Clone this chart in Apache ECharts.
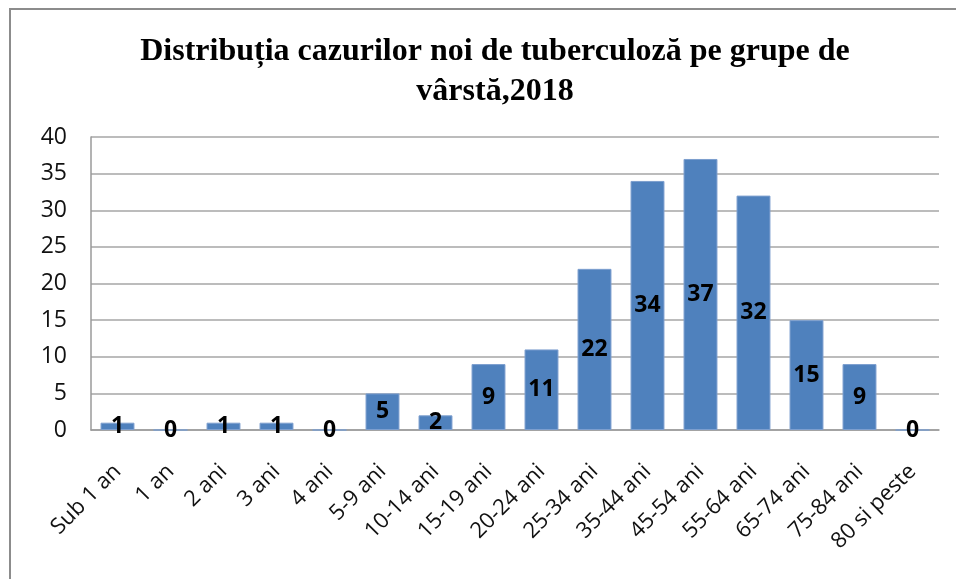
<!DOCTYPE html>
<html>
<head>
<meta charset="utf-8">
<script src="https://cdn.jsdelivr.net/npm/echarts@6/dist/echarts.min.js"></script>
<style>
  html, body { margin: 0; padding: 0; background: #fff; }
  #chart { width: 956px; height: 579px; }
</style>
</head>
<body>
<div id="chart"></div>
<script>
// grupe de varsta
var categories = ['Sub 1 an', '1 an', '2 ani', '3 ani', '4 ani', '5-9 ani', '10-14 ani', '15-19 ani',
  '20-24 ani', '25-34 ani', '35-44 ani', '45-54 ani', '55-64 ani', '65-74 ani', '75-84 ani', '80 si peste'];
// cazuri noi
var cazuri = [1, 0, 1, 1, 0, 5, 2, 9, 11, 22, 34, 37, 32, 15, 9, 0];
var yTicks = { min: 0, max: 40, interval: 5 };

var titlu = 'Distribuția cazurilor noi de tuberculoză pe grupe de\nvârstă,2018';

var myChart = echarts.init(document.getElementById('chart'));
myChart.setOption({
  animation: false,
  title: {
    text: titlu,
    left: 490,
    textAlign: 'center',
    top: 27,
    textStyle: {
      fontFamily: '"Liberation Serif", serif',
      fontWeight: 'bold',
      fontSize: 32,
      lineHeight: 40,
      color: '#000'
    }
  },
  // rama graficului
  graphic: [{
    type: 'rect',
    shape: { x: 10, y: 9, width: 1000, height: 700 },
    style: { fill: null, stroke: '#8c8c8c', lineWidth: 2 },
    silent: true
  }],
  grid: {
    left: 91,
    right: 17,
    top: 137,
    bottom: 149
  },
  xAxis: {
    type: 'category',
    data: categories,
    axisTick: { show: false },
    axisLine: { lineStyle: { color: '#9a9a9a', width: 1.5 } },
    axisLabel: {
      interval: 0,
      rotate: 45,
      margin: 38,
      color: '#111',
      fontFamily: '"Open Sans", sans-serif',
      fontSize: 22
    }
  },
  yAxis: {
    type: 'value',
    min: yTicks.min,
    max: yTicks.max,
    interval: yTicks.interval,
    axisTick: { show: false },
    axisLine: { show: true, lineStyle: { color: '#9a9a9a', width: 1.5 } },
    axisLabel: {
      margin: 24,
      color: '#111',
      fontFamily: '"Open Sans", sans-serif',
      fontSize: 23
    },
    splitLine: {
      show: true,
      lineStyle: { color: '#a6a6a6', width: 1.5 }
    }
  },
  series: [{
    type: 'bar',
    data: cazuri,
    barCategoryGap: '36%',
    itemStyle: {
      color: '#4f81bd',
      borderColor: '#7d9fcf',
      borderWidth: 1
    },
    label: {
      show: true,
      position: 'inside',
      color: '#000',
      fontFamily: '"Open Sans", sans-serif',
      fontWeight: 'bold',
      fontSize: 23
    }
  }]
});
</script>
</body>
</html>
